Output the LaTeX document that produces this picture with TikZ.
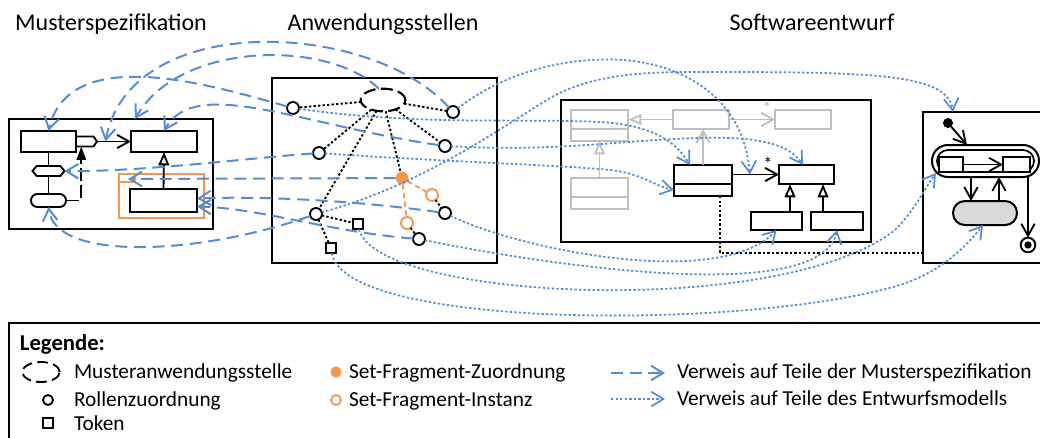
\documentclass[tikz,border=0pt]{standalone}
\usepackage{fontspec}
\setmainfont{Carlito}
\usetikzlibrary{arrows.meta,shapes.geometric,shapes.symbols,fit,calc}
\definecolor{refblue}{RGB}{84,141,212}
\definecolor{sforange}{RGB}{247,150,70}
\definecolor{ghost}{RGB}{191,191,191}
\definecolor{stategray}{RGB}{217,217,217}
\begin{document}
\begin{tikzpicture}[x=0.75pt,y=-0.75pt,
  every node/.style={inner sep=0pt, outer sep=0pt},
  frame/.style={draw, line width=1.5pt},
  cls/.style={draw, line width=1.5pt, fill=white},
  ghostcls/.style={draw=ghost, line width=1.5pt},
  role/.style={circle, draw, line width=1.4pt, minimum size=9pt, fill=white},
  token/.style={rectangle, draw, line width=1.4pt, minimum size=8pt, fill=white},
  sfmap/.style={circle, fill=sforange, minimum size=9.5pt},
  sfinst/.style={circle, draw=sforange, line width=1.4pt, minimum size=9pt, fill=white},
  specref/.style={refblue, line width=1.5pt, dash pattern=on 9pt off 5pt, -{Straight Barb[length=9pt,width=11pt]}},
  designref/.style={refblue, line width=1.3pt, dash pattern=on 1.8pt off 1.6pt, -{Straight Barb[length=9pt,width=11pt]}},
  blackdot/.style={line width=1.4pt, dash pattern=on 1.8pt off 1.6pt},
  orangedash/.style={sforange, line width=1.3pt, dash pattern=on 4pt off 2.5pt},
  assoc/.style={line width=1.4pt, -{Straight Barb[length=9pt,width=10pt]}},
  inherit/.style={line width=1.4pt, -{Triangle[open,length=10pt,width=8pt,fill=white]}},
  ghostinherit/.style={ghost, line width=1.4pt, -{Triangle[open,length=10pt,width=8pt,fill=white]}},
  ghostassoc/.style={ghost, line width=1.4pt, -{Straight Barb[length=9pt,width=10pt]}},
  title/.style={font=\fontsize{18}{21}\selectfont, anchor=base},
  legtext/.style={font=\fontsize{16}{19}\selectfont, anchor=base west},
]
\useasboundingbox (0,0) rectangle (1040,437);

% titles
\node[title] (ttl1) at (111,30) {Musterspezifikation};
\node[title] (ttl2) at (383,30) {Anwendungsstellen};
\node[title] (ttl3) at (812,30) {Softwareentwurf};

% ---------- Musterspezifikation ----------
\node[frame, fit={(9,119) (213,229)}] (MS) {};
\node[cls, fit={(21,131) (76,152)}] (A) {};
\node[cls, fit={(131,131) (197,152)}] (B) {};
\node[draw=sforange, line width=1.4pt, fit={(119,174) (204,218)}] (SF) {};
\draw[sforange, line width=1.4pt] (SF.north west) ++(0,8) -- ++(16,0) -- ++(0,-8);
\node[cls, fit={(130,189) (197,212)}] (C) {};
\node[draw, fill=white, line width=1.4pt, signal, signal to=east, signal pointer angle=110,
      minimum width=15.75pt, minimum height=7.5pt, anchor=west] (PT) at (A.east) {};
\node[draw, fill=white, line width=1.4pt, signal, signal to=west and east, signal pointer angle=100,
      minimum width=24pt, minimum height=7.5pt] (H) at (48.5,171) {};
\node[draw, fill=white, line width=1.4pt, rounded corners=4.8pt, fit={(31,194) (66,207)}] (P) {};
\draw[line width=1.4pt] (A.south) -- (H.north);
\draw[line width=1.4pt] (H.south) -- (P.north);
\draw[inherit] (C.north) -- (B.south);
\draw[assoc] (PT.east) -- (B.west);
\draw[line width=1.4pt, dash pattern=on 10pt off 3pt, -{Triangle[length=10pt,width=7pt]}]
  (P.east) -| ([xshift=-2.6pt]PT.south);

% ---------- Anwendungsstellen ----------
\node[frame, fit={(272,78) (497,263)}] (AW) {};
\node[ellipse, draw, line width=1.6pt, dash pattern=on 9pt off 4pt, minimum width=33.5pt, minimum height=17pt] (E) at (383,100) {};
\node[role] (r1) at (293,108) {};
\node[role] (r2) at (453,112) {};
\node[role] (r3) at (319,153) {};
\node[role] (r4) at (445,146) {};
\node[sfmap] (r5) at (402,178) {};
\node[sfinst] (r6) at (432,195) {};
\node[sfinst] (r7) at (407,223) {};
\node[role] (r8) at (445,213) {};
\node[role] (r9) at (316,214) {};
\node[role] (r10) at (419,239) {};
\node[token] (t1) at (358,224) {};
\node[token] (t2) at (331,248) {};
\draw[blackdot] (E) -- (r1);
\draw[blackdot] (E) -- (r2);
\draw[blackdot] (E) -- (r3);
\draw[blackdot] (E) -- (r4);
\draw[blackdot] (E) -- (r5);
\draw[blackdot] (E) -- (r9);
\draw[blackdot] (r9) -- (t1);
\draw[blackdot] (r9) -- (t2);
\draw[orangedash] (r5) -- (r6);
\draw[orangedash] (r5) -- (r7);
\draw[blackdot] (r6) -- (r8);
\draw[blackdot] (r7) -- (r10);

% ---------- Softwareentwurf ----------
\node[frame, fit={(561,100) (871,242)}] (SW) {};
\node[ghostcls, fit={(571,110) (628,141)}] (G1) {};
\draw[ghost, line width=1.5pt] (G1.west |- 0,129) -- (G1.east |- 0,129);
\node[ghostcls, fit={(673,110) (729,129)}] (G2) {};
\node[ghostcls, fit={(775,110) (831,129)}] (G3) {};
\node[ghostcls, fit={(571,178) (628,209)}] (G4) {};
\draw[ghost, line width=1.5pt] (G4.west |- 0,197) -- (G4.east |- 0,197);
\draw[ghostinherit] (G2.west) -- (G1.east |- G2.west);
\draw[ghostassoc] (G2.east) -- (G3.west);
\node[text=ghost, font=\fontsize{14}{14}\selectfont] (gstar) at (767,108) {*};
\draw[ghostinherit] (G4.north) -- (G1.south);
\node[cls, fit={(674,165) (732,196)}] (K1) {};
\draw[line width=1.5pt] (K1.west |- 0,184) -- (K1.east |- 0,184);
\node[cls, fit={(779,165) (834,184)}] (K2) {};
\node[cls, fit={(751,212) (802,230)}] (S1) {};
\node[cls, fit={(811,212) (863,230)}] (S2) {};
\draw[ghostassoc] (K1.north) -- (G2.south -| K1.north);
\draw[assoc] (K2.west -| K1.east) -- (K2.west);
\node[font=\fontsize{14}{14}\selectfont] (kstar) at (768,164) {*};
\draw[inherit] (S1.north -| 790,0) -- (K2.south -| 790,0);
\draw[inherit] (S2.north -| 823,0) -- (K2.south -| 823,0);

% ---------- state machine ----------
\node[frame, fit={(923,112) (1050,263)}] (SM) {};
\node[circle, fill, minimum size=7.5pt] (init) at (948,123) {};
\node[draw, fill=white, line width=1.5pt, rounded corners=11.9pt, fit={(932,145) (1039,177)}] (CS) {};
\node[draw, line width=1.3pt, rounded corners=8.2pt, fit={(937,150) (1034,172)}] (CSi) {};
\node[cls, fit={(939,157) (963,172)}] (st1) {};
\node[cls, fit={(1003,157) (1030,172)}] (st2) {};
\draw[assoc] (st1) -- (st2);
\node[draw, fill=stategray, line width=1.5pt, rounded corners=8.9pt, fit={(953,201) (1017,225)}] (GS) {};
\draw[assoc] (CS.south -| 971,0) -- (GS.north -| 971,0);
\draw[assoc] (GS.north -| 999,0) -- (CS.south -| 999,0);
\node[circle, draw, line width=1.4pt, minimum size=11pt, fill=white] (fin) at (1028,245) {};
\node[circle, fill, minimum size=5.5pt] (finin) at (fin) {};
\draw[assoc] (CS.south -| fin) -- (fin.north);
\draw[assoc] (init) -- (CS.north -| 967,0);
\coordinate (smport) at (923,253);
\draw[blackdot] (K1.south -| 720,0) |- (smport);

% ---------- references to the pattern specification ----------
\draw[specref] (r1) .. controls (220,88) and (70,40) .. (A.north);
\draw[specref] (r2) .. controls (370,20) and (130,10) .. ($(PT.east)!0.25!(B.west)$);
\draw[specref] (E.110) .. controls (330,40) and (180,40) .. (MS.north -| 135,0);
\draw[specref] (r4) .. controls (300,125) and (195,75) .. (B.north);
\draw[specref] (r3) .. controls (250,158) and (140,172) .. (H.east);
\draw[specref] (r5) -- ($(SF.north west)+(9,5)$);
\draw[specref] (r8) .. controls (350,200) and (260,196) .. ($(C.east)+(0,-2)$);
\draw[specref] (r10) .. controls (330,232) and (260,208) .. ($(C.east)+(0,6)$);
\draw[specref] (r9) .. controls (200,255) and (55,262) .. (P.south);

% ---------- references to the design model ----------
\draw[designref] (r1) .. controls (420,126) and (520,118) .. (600,122) .. controls (650,125) and (675,140) .. (K1.north -| 690,0);
\draw[designref] (r4) .. controls (560,152) and (620,140) .. (700,138) .. controls (760,136) and (790,145) .. (K2.north -| 803,0);
\draw[designref] (r3) .. controls (450,162) and (560,165) .. (610,170) .. controls (640,173) and (655,186) .. (K1.west |- 0,190);
\draw[designref] (r2) .. controls (520,60) and (600,55) .. (640,62) .. controls (700,72) and (745,110) .. ($(K2.west -| K1.east)!0.38!(K2.west)$);
\draw[designref] (r9) .. controls (420,185) and (490,135) .. (550,98) .. controls (600,70) and (660,72) .. (720,72) .. controls (880,72) and (948,75) .. (SM.north -| 953,0);
\draw[designref] (r8) .. controls (520,250) and (720,290) .. (S1.south);
\draw[designref] (r10) .. controls (520,260) and (820,310) .. (S2.south);
\draw[designref] (t1) .. controls (375,300) and (780,320) .. (895,230) .. controls (915,210) and (925,188) .. ($(CS.south west)+(4,-4)$);
\draw[designref] (t2) .. controls (345,330) and (750,330) .. (900,285) .. controls (940,272) and (965,248) .. (GS.south -| 983,0);

% ---------- legend ----------
\node[frame, fit={(9,323) (1050,450)}] (LG) {};
\node[legtext, font=\bfseries\fontsize{17}{20}\selectfont] (lgh) at (20,350) {Legende:};
\node[ellipse, draw, line width=1.4pt, dash pattern=on 8pt off 4pt, minimum width=28pt, minimum height=15pt] (lgE) at (41,372) {};
\node[legtext] (lgEt) at (74,378) {Musteranwendungsstelle};
\node[role, minimum size=7.5pt] (lgR) at (48,400) {};
\node[legtext] (lgRt) at (74,406) {Rollenzuordnung};
\node[token, minimum size=7pt] (lgT) at (48,423) {};
\node[legtext] (lgTt) at (74,430) {Token};
\node[sfmap, minimum size=8.5pt] (lgS) at (336,372) {};
\node[legtext] (lgSt) at (349,378) {Set-Fragment-Zuordnung};
\node[sfinst, minimum size=7.5pt] (lgI) at (336,400) {};
\node[legtext] (lgIt) at (349,406) {Set-Fragment-Instanz};
\coordinate (la1) at (611,373);
\coordinate (la2) at (665,373);
\draw[specref] (la1) -- (la2);
\node[legtext] (lgAt) at (677,378) {Verweis auf Teile der Musterspezifikation};
\coordinate (lb1) at (611,399);
\coordinate (lb2) at (665,399);
\draw[designref] (lb1) -- (lb2);
\node[legtext] (lgBt) at (677,405) {Verweis auf Teile des Entwurfsmodells};
\end{tikzpicture}
\end{document}
